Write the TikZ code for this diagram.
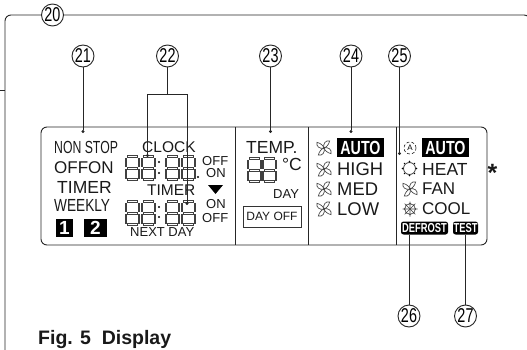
\documentclass[tikz,border=0pt]{standalone}
\usepackage{fontspec}
\setmainfont{Liberation Sans}
\usetikzlibrary{arrows.meta}
\newcommand{\fsz}[1]{\fontsize{#1}{#1}\selectfont}
\tikzstyle{label} = [inner sep=0pt, anchor=west, text=black!90]
\tikzstyle{big} = [label, font=\fsz{17.5}]
\tikzstyle{bigger} = [label, font=\fsz{18.4}]
\tikzstyle{mid} = [label, font=\fsz{15.5}]
\tikzstyle{small} = [label, font=\fsz{13}]
\tikzstyle{number} = [circle, draw=black!85, fill=white, line width=0.9pt, minimum size=22pt, inner sep=0pt, font=\fsz{20}]
\tikzstyle{invbox} = [fill=black, text=white, inner sep=0pt, font=\bfseries\fsz{19}, minimum height=19pt]
\tikzstyle{invtag} = [invbox, rounded corners=2.5pt, font=\bfseries\fsz{13}, minimum height=13pt]
\tikzstyle{leader} = [line width=0.9pt, draw=black!85]
\tikzstyle{pointer} = [leader, -{Circle[length=3pt]}]
\tikzstyle{lcd} = [line width=0.45pt, draw=black!75]
\tikzset{
  lcddigit/.pic={
    \foreach \yy in {0,11.5,23}
      \draw[lcd] (2,\yy-0.9) rectangle (12,\yy+0.9);
    \foreach \xx in {0,13}
      \foreach \yy in {1.5,13}
        \draw[lcd] (\xx,\yy) rectangle (\xx+1.6,\yy+8.5);
  },
  fanicon/.pic={
    \foreach \a in {45,135,225,315}
      \draw[lcd, line width=0.65pt, rotate=\a] (0,0) .. controls (2,-4) and (7,-4.5) .. (9,-1) .. controls (6,1) and (2,1.2) .. (0,0);
  },
  snowicon/.pic={
    \foreach \a in {0,45,...,315}
      \draw[lcd, line width=0.65pt, rotate=\a] (0,0) -- (7.5,0) (4.5,-1.8) -- (5.8,0) -- (4.5,1.8);
  }
}
\begin{document}
\begin{tikzpicture}[x=1pt, y=-1pt]
  \useasboundingbox (0,0) rectangle (527,350);
  % outer frame
  \coordinate (frameBL) at (5,350);
  \coordinate (frameTL) at (5,15);
  \coordinate (frameTR) at (530,15);
  \coordinate (tick) at (0,90.5);
  \draw[leader, rounded corners=6pt] (frameBL) -- (frameTL) -- (frameTR) -- (530,40);
  \draw[leader, line width=0.6pt] (tick) -- (tick -| frameTL);
  % display body
  \draw[leader, rounded corners=6pt] (41,127) rectangle (487,245);
  \foreach \xx in {235.5,308,396}
    \draw[leader] (\xx,127) -- (\xx,245);
  % numbered circles
  \node (num20) [number] at (52.5,15) {\scalebox{.72}[1]{20}};
  \node (num21) [number] at (83,56) {\scalebox{.72}[1]{21}};
  \node (num22) [number] at (167.5,56) {\scalebox{.72}[1]{22}};
  \node (num23) [number] at (270.5,56) {\scalebox{.72}[1]{23}};
  \node (num24) [number] at (351,56) {\scalebox{.72}[1]{24}};
  \node (num25) [number] at (399.5,56) {\scalebox{.72}[1]{25}};
  \node (num26) [number] at (409,316) {\scalebox{.72}[1]{26}};
  \node (num27) [number] at (465.5,316) {\scalebox{.72}[1]{27}};
  % first section
  \node (nonstop) [big] at (54,147) {\scalebox{.7}[1]{NON STOP}};
  \node (offon) [label, font=\fsz{17}] at (54,168) {OFFON};
  \node (timerA) [big] at (57,187) {TIMER};
  \node (weekly) [big] at (54,205) {\scalebox{.78}[1]{WEEKLY}};
  \node (one) [invbox, minimum width=17pt, minimum height=18pt] at (64.5,228) {1};
  \node (two) [invbox, minimum width=23pt, minimum height=18pt] at (95.5,228) {2};
  \node (clock) [mid] at (142,147) {CLOCK};
  \node (timerB) [mid] at (147,190) {TIMER};
  \node (nextday) [small] at (130,232) {NEXT DAY};
  \node (offA) [small] at (202,161) {OFF};
  \node (onA) [small] at (206,173) {ON};
  \node (onB) [small] at (206,204) {ON};
  \node (offB) [small] at (202,218) {OFF};
  \fill[black] (208,185) -- (223,185) -- (215.5,194) -- cycle;
  \foreach \xx in {125,141,165,181} {
    \pic at (\xx,156.5) {lcddigit};
    \pic at (\xx,201.5) {lcddigit};
  }
  \foreach \yy in {162,173,207,217}
    \fill (159,\yy) circle (1.1);
  \fill (198,177) circle (1.1);
  % temperature section
  \node (temp) [big] at (246,147) {TEMP.};
  \node (deg) [big] at (282,164) {°C};
  \node (day) [small] at (273,194) {DAY};
  \node (dayoff) [small, draw=black!80, line width=0.8pt, anchor=center, minimum width=58pt, minimum height=21pt, font=\fsz{12}] at (272,216.5) {DAY OFF};
  \pic at (247,158.5) {lcddigit};
  \pic at (262,158.5) {lcddigit};
  % fan section
  \node (fanauto) [invbox, minimum width=47pt] at (360.5,147.5) {\scalebox{.75}[1]{AUTO}};
  \node (high) [bigger] at (337,169) {HIGH};
  \node (med) [bigger] at (337,189) {MED};
  \node (low) [bigger] at (337,209) {LOW};
  \foreach \yy in {148,169,189,209}
    \pic at (324,\yy) {fanicon};
  % mode section
  \node (modeauto) [invbox, minimum width=47pt] at (445.5,147.5) {\scalebox{.75}[1]{AUTO}};
  \node (heat) [big] at (422,169) {HEAT};
  \node (fan) [label, font=\fsz{17}] at (422,189) {FAN};
  \node (cool) [label, font=\fsz{17}] at (422,209) {COOL};
  \node (defrost) [invtag, minimum width=47pt] at (424.5,228) {\scalebox{.72}[1]{DEFROST}};
  \node (test) [invtag, minimum width=25pt] at (465.5,228) {\scalebox{.72}[1]{TEST}};
  \node (autoicon) [circle, draw=black!85, densely dashed, line width=0.6pt, inner sep=0pt, minimum size=12pt, font=\fsz{8}] at (410,148) {A};
  \draw[lcd, line width=0.8pt] (409.5,168.5) circle (6);
  \foreach \a in {0,45,...,315}
    \fill[rotate around={\a:(409.5,168.5)}] (409.5,161.5) circle (0.9);
  \pic at (410,189) {fanicon};
  \pic at (410,209) {snowicon};
  \node (star) [label, anchor=center, font=\bfseries\fsz{25}] at (492.5,173) {*};
  % caption
  \node (caption) [label, font=\bfseries\fsz{19.5}] at (38,339) {Fig. 5\ \ Display};
  % leaders
  \coordinate (end21) at (83,133);
  \coordinate (branch22) at (167.5,94);
  \coordinate (end22a) at (147.5,157);
  \coordinate (end22b) at (187,205);
  \coordinate (end23) at (270.5,133);
  \coordinate (end24) at (351,133);
  \coordinate (end25) at (399.5,155);
  \draw[pointer] (num21) -- (end21);
  \draw[leader] (num22) -- (branch22);
  \draw[pointer] (branch22) -| (end22a);
  \draw[pointer] (branch22) -| (end22b);
  \draw[pointer] (num23) -- (end23);
  \draw[pointer] (num24) -- (end24);
  \draw[pointer] (num25) -- (end25);
  \draw[leader] (num26) -- (num26 |- defrost.south);
  \draw[leader] (num27) -- (num27 |- test.south);
\end{tikzpicture}
\end{document}
